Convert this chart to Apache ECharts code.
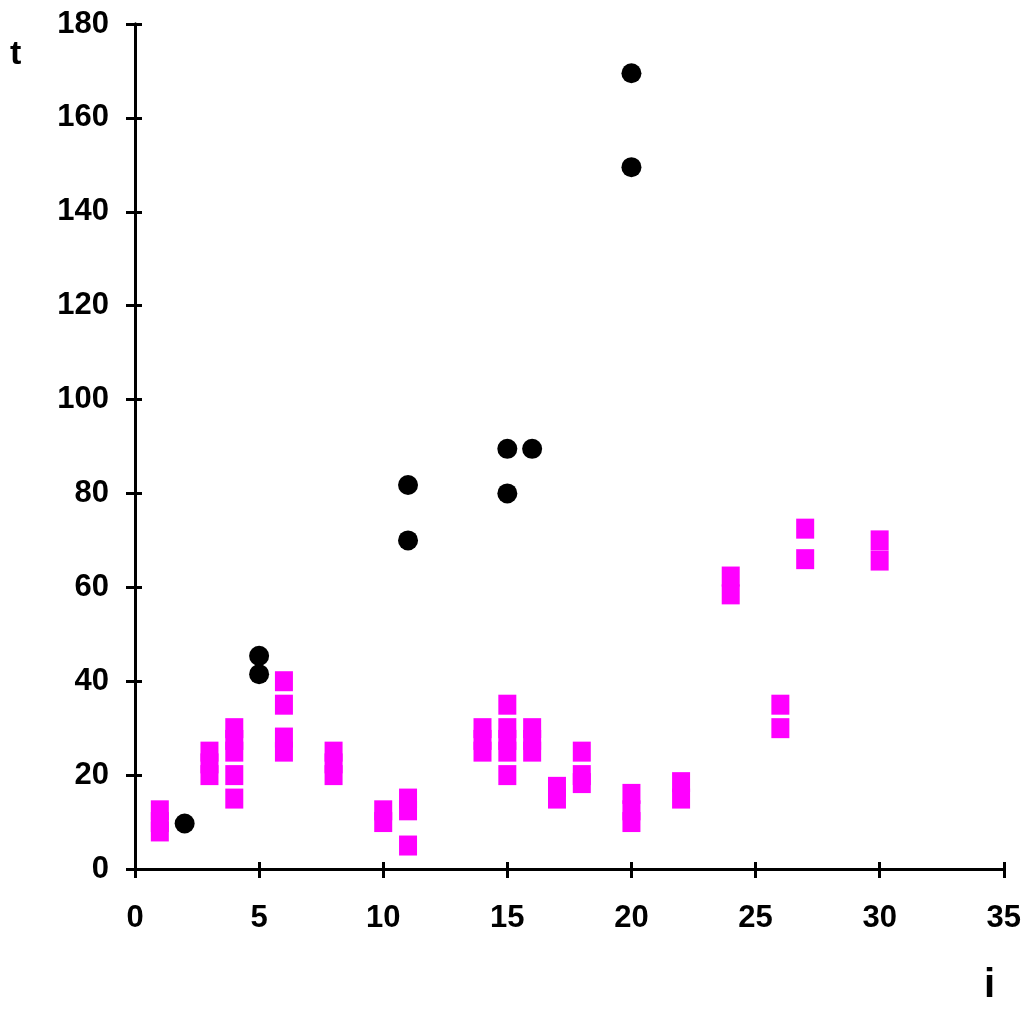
<!DOCTYPE html>
<html>
<head>
<meta charset="utf-8">
<script src="https://cdn.jsdelivr.net/npm/echarts@6/dist/echarts.min.js"></script>
<style>
  html, body { margin: 0; padding: 0; background: #fff; }
  #chart { width: 1024px; height: 1016px; }
</style>
</head>
<body>
<div id="chart"></div>
<script>
// i / t values for the magenta squares (overlapping marks make the tall bars)
var pinkI = [1, 1, 1, 3, 3, 3, 4, 4, 4, 4, 4, 6, 6, 6, 6, 8, 8, 8, 10, 10, 11, 11, 11,
             14, 14, 14, 15, 15, 15, 15, 15, 16, 16, 16, 17, 17, 18, 18, 18,
             20, 20, 20, 22, 22, 24, 24, 26, 26, 27, 27, 30, 30];
var pinkT = [8, 10, 12.5, 20, 22.5, 25, 15, 20, 25, 27.5, 30, 25, 28, 35, 40, 20, 22.5, 25, 10, 12.5, 5, 12.5, 15,
             25, 27.5, 30, 20, 25, 27.5, 30, 35, 25, 27.5, 30, 15, 17.5, 18.3, 20, 25,
             10, 12.5, 16, 15, 18.5, 58.5, 62.3, 30, 35, 66, 72.5, 65.7, 70];

// i / t values for the black dots
var dotI = [2, 5, 5, 11, 11, 15, 15, 16, 20, 20];
var dotT = [9.7, 41.5, 45.4, 70, 81.8, 80, 89.5, 89.5, 149.5, 169.5];

var xTicks = [0, 35, 5];   // min, max, interval
var yTicks = [0, 180, 20];

var labelFont = {
  color: '#000',
  fontFamily: '"Liberation Sans", Arial, sans-serif',
  fontWeight: 'bold',
  fontSize: 31
};

function pairs(xs, ys) {
  return xs.map(function (v, k) { return [v, ys[k]]; });
}

function makeAxis(ticks, pos, inside, withLabels, margin) {
  return {
    type: 'value',
    position: pos,
    min: ticks[0],
    max: ticks[1],
    interval: ticks[2],
    axisLine: { show: true, onZero: false, lineStyle: { color: '#000', width: 3 } },
    axisTick: { show: true, inside: inside, length: inside ? 7 : 9, lineStyle: { color: '#000', width: 3 } },
    axisLabel: Object.assign({ show: withLabels, margin: margin }, labelFont),
    splitLine: { show: false }
  };
}

var myChart = echarts.init(document.getElementById('chart'));
myChart.setOption({
  animation: false,
  backgroundColor: '#fff',
  grid: { left: 135, right: 18, top: 24, bottom: 147, containLabel: false },
  // two copies per axis so the ticks cross the axis line
  xAxis: [makeAxis(xTicks, 'bottom', false, true, 34), makeAxis(xTicks, 'bottom', true, false, 0)],
  yAxis: [makeAxis(yTicks, 'left', false, true, 26), makeAxis(yTicks, 'left', true, false, 0)],
  graphic: [
    { type: 'text', left: 10, top: 38,
      style: { text: 't', fill: '#000', font: 'bold 34px "Liberation Sans", sans-serif' } },
    { type: 'text', left: 984, top: 966,
      style: { text: 'i', fill: '#000', font: 'bold 40px "Liberation Sans", sans-serif' } }
  ],
  series: [
    {
      type: 'scatter',
      symbol: 'rect',
      symbolSize: [18, 20],
      itemStyle: { color: '#ff00ff', opacity: 1, borderWidth: 0 },
      data: pairs(pinkI, pinkT)
    },
    {
      type: 'scatter',
      symbol: 'circle',
      symbolSize: 20,
      itemStyle: { color: '#000', opacity: 1, borderWidth: 0 },
      data: pairs(dotI, dotT)
    }
  ]
});
</script>
</body>
</html>
